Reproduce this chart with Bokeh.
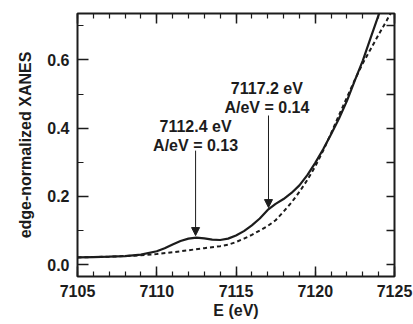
from bokeh.plotting import figure
from bokeh.models import (Range1d, LinearAxis, SingleIntervalTicker, Arrow, NormalHead,
                          ColumnDataSource, PrintfTickFormatter, CustomJSTickFormatter)
from bokeh.core.properties import value
from bokeh.embed import file_html
from bokeh.resources import INLINE

# --- data ---
energy_solid = [7105, 7106, 7107, 7108, 7109, 7110, 7110.5, 7111, 7111.5, 7112, 7112.5,
                7113, 7113.5, 7114, 7114.5, 7115, 7115.5, 7116, 7116.5, 7117, 7117.5,
                7118, 7118.5, 7119, 7119.5, 7120, 7120.5, 7121, 7121.5, 7122, 7122.5,
                7123, 7123.5, 7124, 7124.3]
xanes_solid = [0.021, 0.022, 0.023, 0.025, 0.029, 0.039, 0.048, 0.059, 0.069, 0.076, 0.079,
               0.077, 0.073, 0.072, 0.076, 0.085, 0.098, 0.115, 0.135, 0.160, 0.178,
               0.192, 0.210, 0.232, 0.262, 0.298, 0.338, 0.382, 0.428, 0.480, 0.540,
               0.598, 0.665, 0.732, 0.770]

energy_dash = [7105, 7106, 7107, 7108, 7109, 7110, 7111, 7112, 7113, 7114, 7114.5, 7115,
               7115.5, 7116, 7116.5, 7117, 7117.5, 7118, 7118.5, 7119, 7119.5, 7120,
               7120.5, 7121, 7121.5, 7122, 7122.5, 7123, 7123.5, 7124, 7124.5, 7125]
xanes_dash = [0.021, 0.022, 0.023, 0.025, 0.027, 0.031, 0.036, 0.042, 0.048, 0.054, 0.058,
              0.066, 0.076, 0.087, 0.100, 0.113, 0.130, 0.155, 0.182, 0.213, 0.248, 0.288,
              0.334, 0.385, 0.438, 0.490, 0.542, 0.590, 0.632, 0.674, 0.715, 0.757]

x_ticks_major = 5
y_ticks_major = 0.2

ann_line1 = ["7112.4 eV", "7117.2 eV"]
ann_line2 = ["A/eV = 0.13", "A/eV = 0.14"]
ann_x = [7112.45, 7116.95]
ann_y1 = [0.404, 0.516]
ann_y2 = [0.349, 0.460]
arrow_x = [7112.45, 7117.05]
arrow_start = [0.334, 0.437]
arrow_end = [0.085, 0.167]

FONT = "Liberation Sans"
INK = "#1c1c1c"

p = figure(width=413, height=324, output_backend="svg", toolbar_location=None,
           x_range=Range1d(7105, 7125), y_range=Range1d(-0.035, 0.736),
           x_axis_location=None, y_axis_location=None,
           min_border_left=77, min_border_right=19, min_border_top=13, min_border_bottom=48)
p.xgrid.visible = False
p.ygrid.visible = False
p.outline_line_color = INK
p.outline_line_width = 2
p.background_fill_color = "white"
p.border_fill_color = "white"

blank = CustomJSTickFormatter(code="return ''")


def style(ax, major_in, minor_in, labels=True):
    ax.major_tick_in = major_in
    ax.major_tick_out = 0
    ax.minor_tick_in = minor_in
    ax.minor_tick_out = 0
    ax.major_tick_line_color = INK
    ax.minor_tick_line_color = INK
    ax.major_tick_line_width = 1.5
    ax.minor_tick_line_width = 1.2
    ax.axis_line_color = None
    if labels:
        ax.major_label_text_font = FONT
        ax.major_label_text_font_style = "bold"
        ax.major_label_text_font_size = "16px"
        ax.major_label_text_color = INK
        ax.axis_label_text_font = FONT
        ax.axis_label_text_font_style = "bold"
        ax.axis_label_text_font_size = "16px"
        ax.axis_label_text_color = INK
    else:
        ax.formatter = blank
        ax.major_label_standoff = 0


xb = LinearAxis(ticker=SingleIntervalTicker(interval=x_ticks_major, num_minor_ticks=5),
                axis_label="E (eV)")
style(xb, 10, 5)
xb.major_label_standoff = 8
xb.axis_label_standoff = 2
p.add_layout(xb, "below")

xt = LinearAxis(ticker=SingleIntervalTicker(interval=x_ticks_major, num_minor_ticks=5))
style(xt, 10, 5, labels=False)
p.add_layout(xt, "above")

yl = LinearAxis(ticker=SingleIntervalTicker(interval=y_ticks_major, num_minor_ticks=2),
                axis_label="edge-normalized XANES", formatter=PrintfTickFormatter(format="%.1f"))
style(yl, 11, 6)
yl.major_label_standoff = 8
yl.axis_label_standoff = 10
p.add_layout(yl, "left")

yr = LinearAxis(ticker=SingleIntervalTicker(interval=0.1, num_minor_ticks=0))
style(yr, 8, 0, labels=False)
p.add_layout(yr, "right")

p.line(energy_dash, xanes_dash, line_color=INK, line_width=2, line_dash="4 3")
p.line(energy_solid, xanes_solid, line_color=INK, line_width=2.2)

for xa, ys, ye in zip(arrow_x, arrow_start, arrow_end):
    p.add_layout(Arrow(end=NormalHead(size=8, fill_color=INK, line_color=INK, line_width=1),
                       x_start=xa, y_start=ys, x_end=xa, y_end=ye,
                       line_color=INK, line_width=1))

src = ColumnDataSource(dict(x=ann_x, y1=ann_y1, y2=ann_y2, t1=ann_line1, t2=ann_line2))
for ycol, tcol in (("y1", "t1"), ("y2", "t2")):
    p.text(x="x", y=ycol, text=tcol, source=src, text_font=value(FONT),
           text_font_style="bold", text_font_size="16px", text_color=INK,
           text_align="center", text_baseline="middle")

open("out.html", "w").write(file_html(p, INLINE))
